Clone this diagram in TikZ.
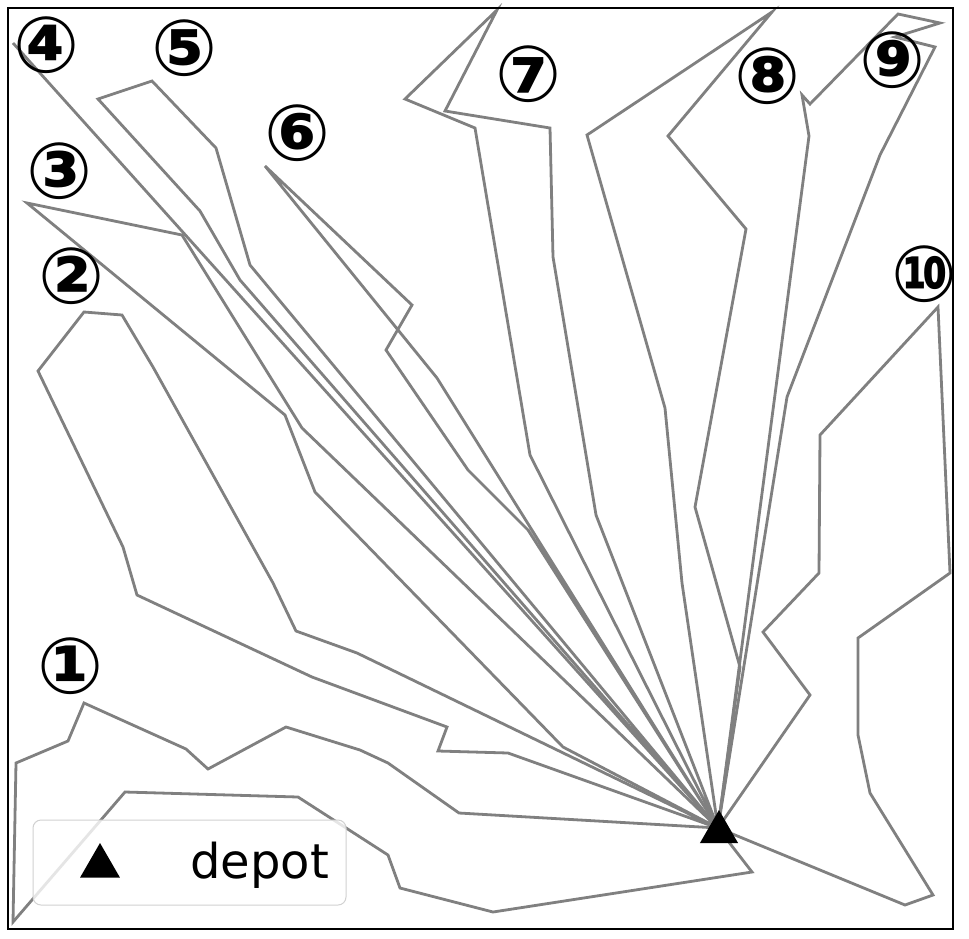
\documentclass[tikz,border=0pt]{standalone}
\usepackage{fontspec}
\setmainfont{DejaVu Sans}
\usetikzlibrary{shapes.geometric}
\begin{document}
\begin{tikzpicture}[x=1pt,y=-1pt,
  route/.style={draw=black!50, line width=2.8pt, line join=miter},
  lab/.style={inner sep=0pt, font=\fontsize{78}{78}\selectfont\bfseries},
  tri/.style={regular polygon, regular polygon sides=3, fill=black, inner sep=0pt, minimum size=44pt}]
\useasboundingbox (0,0) rectangle (969,938);
\fill[white] (0,0) rectangle (969,938);
\coordinate (depot) at (718,828);
% routes
\draw[route] (depot) -- (752,872) -- (493,912) -- (400,888) -- (388,855) -- (298,797) -- (125,792) -- (13,922) -- (16,763) -- (68,741) -- (84,703) -- (186,749) -- (208,769) -- (286,727) -- (360,750) -- (388,763) -- (459,813) -- (depot);
\draw[route] (depot) -- (357,653) -- (296,631) -- (273,583) -- (153,367) -- (122,315) -- (84,312) -- (38,371) -- (123,547) -- (137,595) -- (312,677) -- (447,727) -- (438,751) -- (508,753) -- (depot);
\draw[route] (depot) -- (302,428) -- (182,235) -- (27,203) -- (285,415) -- (315,492) -- (563,747) -- (depot);
\draw[route] (depot) -- (13,43) -- (depot);
\draw[route] (depot) -- (250,265) -- (216,148) -- (152,81) -- (98,99) -- (200,211) -- (240,280) -- (depot);
\draw[route] (depot) -- (437,378) -- (265,166) -- (412,305) -- (386,350) -- (468,470) -- (528,530) -- (depot);
\draw[route] (depot) -- (530,455) -- (475,128) -- (405,99) -- (497,10) -- (445,111) -- (550,128) -- (553,257) -- (596,515) -- (depot);
\draw[route] (depot) -- (682,583) -- (665,408) -- (587,135) -- (772,12) -- (668,136) -- (746,229) -- (695,507) -- (740,667) -- (depot);
\draw[route] (depot) -- (809,136) -- (802,95) -- (810,104) -- (898,14) -- (940,23) -- (895,37) -- (935,47) -- (880,155) -- (787,397) -- (depot);
\draw[route] (depot) -- (810,695) -- (763,632) -- (819,573) -- (820,435) -- (938,307) -- (950,573) -- (858,638) -- (858,735) -- (870,793) -- (933,895) -- (905,905) -- (depot);
% depot marker
\node[tri] (dep) at (719,832) {};
% labels
\node[lab] (l1) at (71,666) {①};
\node[lab] (l2) at (72,276) {②};
\node[lab] (l3) at (60,171) {③};
\node[lab] (l4) at (47,45) {④};
\node[lab] (l5) at (185,48) {⑤};
\node[lab] (l6) at (298,133) {⑥};
\node[lab] (l7) at (529,74) {⑦};
\node[lab] (l8) at (768,76) {⑧};
\node[lab] (l9) at (893,60) {⑨};
\node[lab] (l10) at (925,274) {⑩};
% frame
\draw[black, line width=1.2pt] (8,8) rectangle (953,929);
% legend
\draw[draw=black!18, fill=white, fill opacity=0.8, line width=1pt, rounded corners=8pt] (33,820) rectangle (346,905);
\node[tri, minimum size=46pt] (legtri) at (100,866) {};
\node[anchor=base west, inner sep=0pt, font=\fontsize{48}{48}\selectfont] (legtxt) at (190,878) {depot};
\end{tikzpicture}
\end{document}
